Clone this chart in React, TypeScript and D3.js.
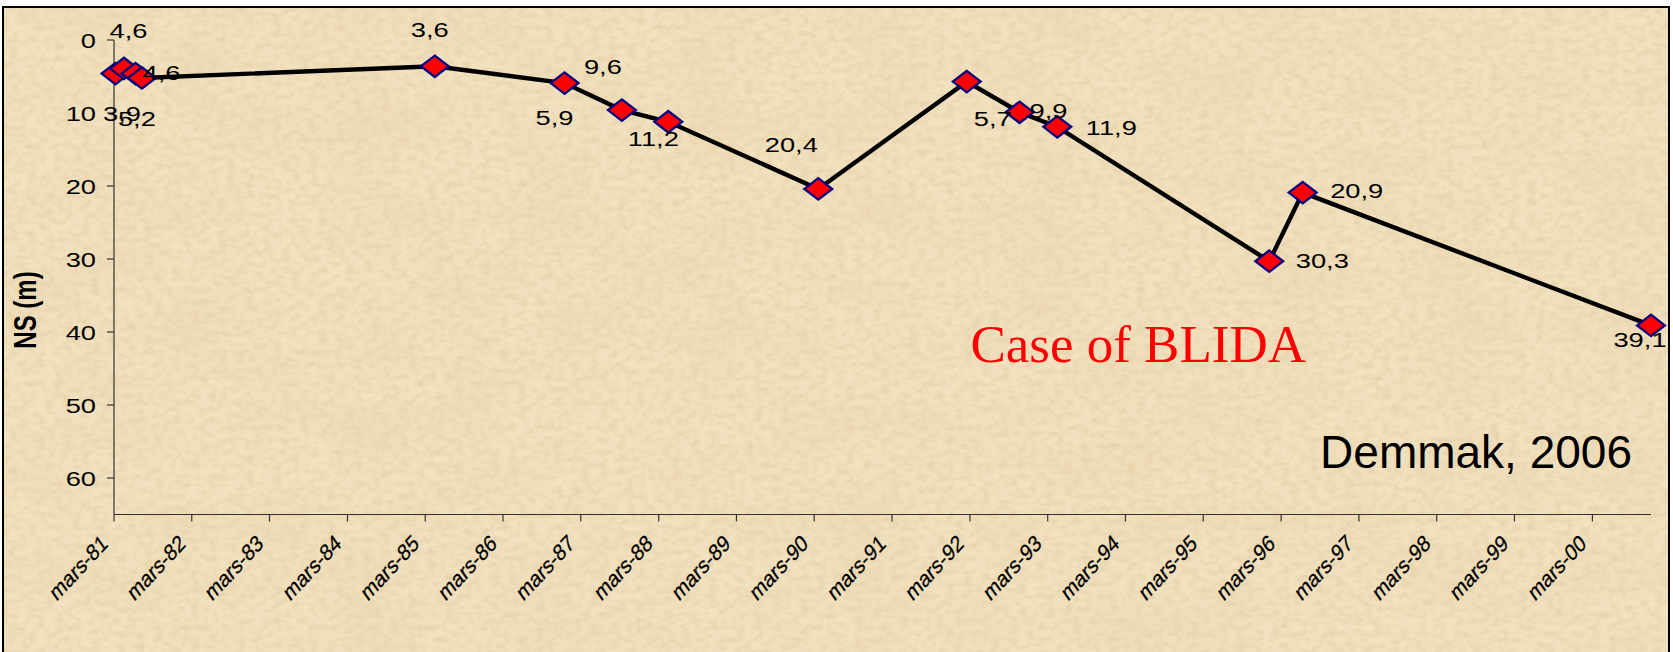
import React, { useEffect, useRef } from 'react';
import * as d3 from 'd3';

// measurement dates and static level (m)
const sampleDates = ['1981-03-08', '1981-04-17', '1981-06-10', '1981-07-10', '1985-04-15', '1986-12-15', '1987-09-10', '1988-04-15', '1990-03-20', '1992-02-15', '1992-10-20', '1993-04-15', '1996-01-05', '1996-06-10', '2000-12-01'];
const levels = [4.6, 3.9, 4.6, 5.2, 3.6, 5.9, 9.6, 11.2, 20.4, 5.7, 9.9, 11.9, 30.3, 20.9, 39.1];
const levelLabels = ['4,6', '3,9', '4,6', '5,2', '3,6', '5,9', '9,6', '11,2', '20,4', '5,7', '9,9', '11,9', '30,3', '20,9', '39,1'];

const xTickDates = ['1981-03-01', '1982-03-01', '1983-03-01', '1984-03-01', '1985-03-01', '1986-03-01', '1987-03-01', '1988-03-01', '1989-03-01', '1990-03-01', '1991-03-01', '1992-03-01', '1993-03-01', '1994-03-01', '1995-03-01', '1996-03-01', '1997-03-01', '1998-03-01', '1999-03-01', '2000-03-01'];
const xTickLabels = ['mars-81', 'mars-82', 'mars-83', 'mars-84', 'mars-85', 'mars-86', 'mars-87', 'mars-88', 'mars-89', 'mars-90', 'mars-91', 'mars-92', 'mars-93', 'mars-94', 'mars-95', 'mars-96', 'mars-97', 'mars-98', 'mars-99', 'mars-00'];
const yTicks = [0, 10, 20, 30, 40, 50, 60];

// where each value label was dragged to, relative to its marker
const labelOffsets = [[13, -36], [-2, 53], [26, 6], [-5, 48], [-5, -29], [-10, 42], [-19, -36], [-15, 24], [-27, -37], [26, 44], [29, 6], [54, 8], [53, 7], [54, 5], [-11, 22]];

const W = 1673;
const H = 652;
const SX = 1.3; // chart was stretched sideways on the slide

const App = () => {
  const svgRef = useRef(null);

  useEffect(() => {
    const svg = d3.select(svgRef.current);
    svg.selectAll('*').remove();

    const parse = d3.timeParse('%Y-%m-%d');
    const data = sampleDates.map((d, i) => ({ date: parse(d), v: levels[i], label: levelLabels[i], off: labelOffsets[i] }));

    const left = 114, right = 1651, top = 40, bottom = 514.5;

    const x = d3.scaleTime()
      .domain([parse('1981-03-01'), parse(sampleDates[sampleDates.length - 1])])
      .range([left, right]);
    const y = d3.scaleLinear().domain([0, 65]).range([top, bottom]);

    // paper background
    const defs = svg.append('defs');
    const f = defs.append('filter').attr('id', 'paper').attr('x', 0).attr('y', 0).attr('width', '100%').attr('height', '100%');
    f.append('feTurbulence').attr('type', 'fractalNoise').attr('baseFrequency', '0.11 0.16').attr('numOctaves', 3).attr('seed', 7).attr('result', 'n');
    f.append('feColorMatrix').attr('in', 'n').attr('type', 'matrix')
      .attr('values', '0 0 0 0 0.80  0 0 0 0 0.64  0 0 0 0 0.40  0 0 0 1.9 -0.75');
    const f2 = defs.append('filter').attr('id', 'blotch').attr('x', 0).attr('y', 0).attr('width', '100%').attr('height', '100%');
    f2.append('feTurbulence').attr('type', 'fractalNoise').attr('baseFrequency', '0.012 0.02').attr('numOctaves', 2).attr('seed', 2).attr('result', 'n');
    f2.append('feColorMatrix').attr('in', 'n').attr('type', 'matrix')
      .attr('values', '0 0 0 0 0.85  0 0 0 0 0.70  0 0 0 0 0.45  0 0 0 1.4 -0.55');

    svg.append('rect').attr('width', W).attr('height', H).attr('fill', '#fff');
    svg.append('rect').attr('x', 3).attr('y', 7).attr('width', 1666).attr('height', 650).attr('fill', '#f1e1bf');
    svg.append('rect').attr('x', 3).attr('y', 7).attr('width', 1666).attr('height', 650).attr('filter', 'url(#blotch)');
    svg.append('rect').attr('x', 3).attr('y', 7).attr('width', 1666).attr('height', 650).attr('filter', 'url(#paper)');
    svg.append('rect').attr('x', 3).attr('y', 7).attr('width', 1666).attr('height', 650)
      .attr('fill', 'none').attr('stroke', '#000').attr('stroke-width', 2);

    const font = "Arial, 'Liberation Sans', sans-serif";

    // y axis
    const ya = svg.append('g');
    ya.append('line').attr('x1', left).attr('x2', left).attr('y1', top).attr('y2', bottom).attr('stroke', '#333').attr('stroke-width', 1.2);
    yTicks.forEach(t => {
      ya.append('line').attr('x1', left - 7).attr('x2', left).attr('y1', y(t)).attr('y2', y(t)).attr('stroke', '#333').attr('stroke-width', 1.2);
      ya.append('text')
        .attr('transform', `translate(96,${y(t) + 7.5}) scale(${SX},1)`)
        .attr('text-anchor', 'end').attr('font-family', font).attr('font-size', 21).attr('fill', '#000')
        .text(t);
    });
    svg.append('text')
      .attr('transform', `translate(36,310) scale(${SX},1) rotate(-90)`)
      .attr('text-anchor', 'middle').attr('font-family', font).attr('font-size', 24).attr('font-weight', 'bold')
      .text('NS (m)');

    // x axis
    const xa = svg.append('g');
    xa.append('line').attr('x1', left).attr('x2', right).attr('y1', bottom).attr('y2', bottom).attr('stroke', '#333').attr('stroke-width', 1.2);
    xTickDates.forEach((d, i) => {
      const tx = x(parse(d));
      xa.append('line').attr('x1', tx).attr('x2', tx).attr('y1', bottom).attr('y2', bottom + 7).attr('stroke', '#333').attr('stroke-width', 1.2);
      xa.append('text')
        .attr('transform', `translate(${tx - 5},${bottom + 31}) rotate(-47) skewX(-12)`)
        .attr('text-anchor', 'end').attr('font-family', font).attr('font-size', 21).attr('fill', '#000')
        .attr('stroke', '#000').attr('stroke-width', 0.25)
        .text(xTickLabels[i]);
    });

    // line + markers
    const line = d3.line().x(d => x(d.date)).y(d => y(d.v));
    svg.append('path').datum(data).attr('d', line).attr('fill', 'none').attr('stroke', '#000').attr('stroke-width', 4.4).attr('stroke-linejoin', 'miter');

    const diamond = d3.symbol().type(d3.symbolSquare).size(230);
    svg.selectAll('.mk').data(data).enter().append('path')
      .attr('class', 'mk')
      .attr('d', diamond())
      .attr('transform', d => `translate(${x(d.date)},${y(d.v)}) scale(${SX},1) rotate(45)`)
      .attr('fill', '#ff0000').attr('stroke', '#000080').attr('stroke-width', 2);

    svg.selectAll('.lbl').data(data).enter().append('text')
      .attr('class', 'lbl')
      .attr('transform', d => `translate(${x(d.date) + d.off[0]},${y(d.v) + d.off[1]}) scale(${SX},1)`)
      .attr('text-anchor', 'middle').attr('font-family', font).attr('font-size', 21).attr('fill', '#000')
      .text(d => d.label);

    // annotations
    svg.append('text').attr('x', 1306).attr('y', 362).attr('text-anchor', 'end')
      .attr('font-family', "'Times New Roman', 'Liberation Serif', serif").attr('font-size', 53).attr('fill', '#ff0000')
      .text('Case of BLIDA');
    svg.append('text').attr('x', 1632).attr('y', 468).attr('text-anchor', 'end')
      .attr('font-family', font).attr('font-size', 46).attr('fill', '#000')
      .text('Demmak, 2006');
  }, []);

  return (
    <div style={{ position: 'absolute', left: 0, top: 0, width: W, height: H }}>
      <svg ref={svgRef} width={W} height={H} style={{ display: 'block' }}></svg>
    </div>
  );
};

export default App;
